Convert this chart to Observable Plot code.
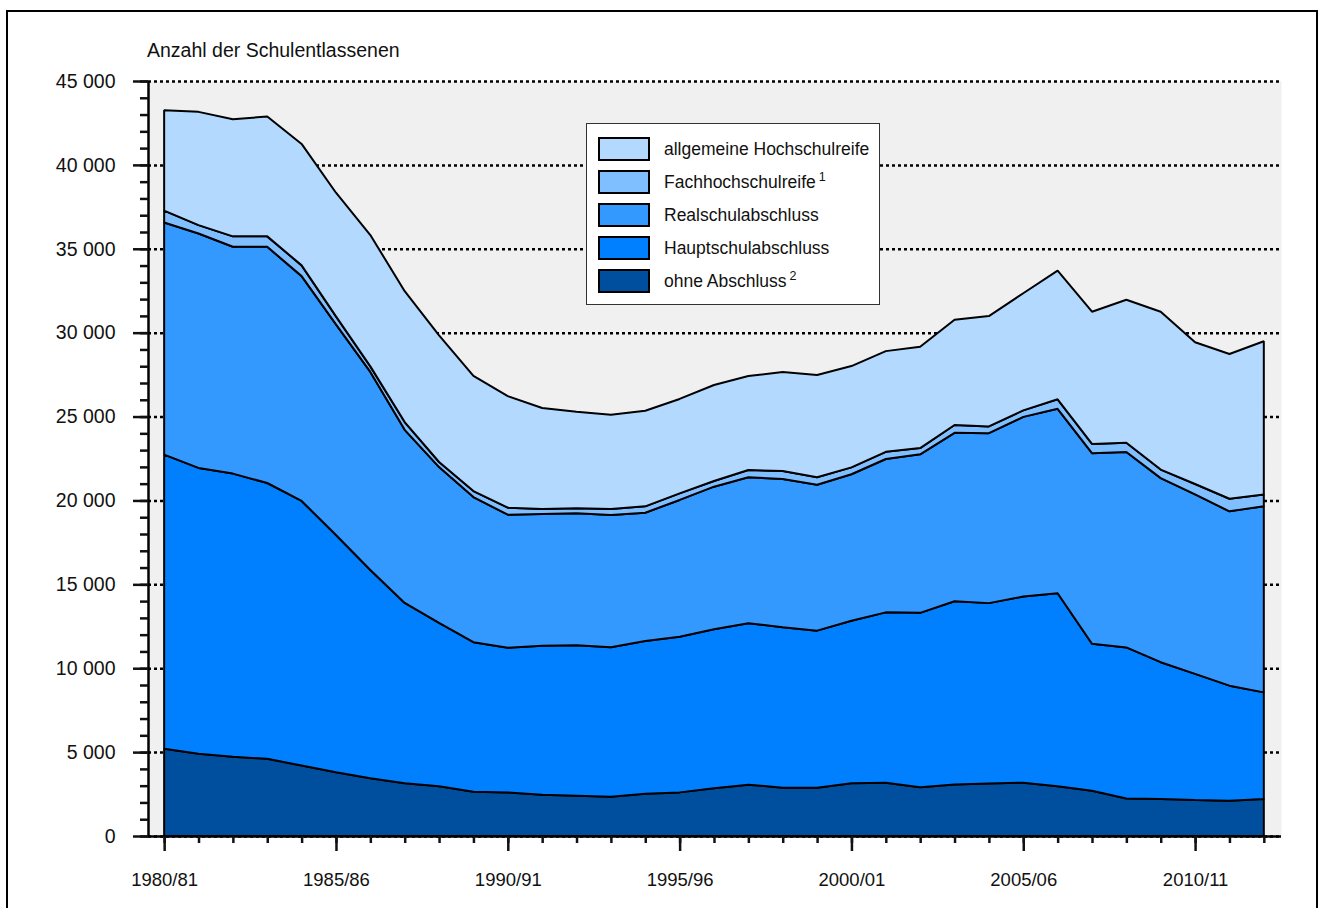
<!DOCTYPE html>
<html>
<head>
<meta charset="utf-8">
<script src="https://cdn.jsdelivr.net/npm/d3@7"></script>
<script src="https://cdn.jsdelivr.net/npm/@observablehq/plot@0.6"></script>
<style>
  html, body { margin: 0; padding: 0; background: #fff; overflow: hidden; }
  body { width: 1324px; height: 908px; position: relative; font-family: "Liberation Sans", Arial, sans-serif; color: #111; }
  #frame { position: absolute; left: 6px; top: 10px; width: 1312px; height: 960px; border: 2px solid #000; box-sizing: border-box; pointer-events: none; }
  #chart { position: absolute; left: 0; top: 0; }
  #title { position: absolute; left: 147px; top: 40px; font-size: 19.5px; line-height: 21px; white-space: nowrap; }
  #legend { position: absolute; left: 586px; top: 123px; width: 294px; height: 182px; background: #fff; border: 1px solid #333; box-sizing: border-box; }
  .row { position: absolute; left: 11px; height: 24px; display: flex; align-items: center; }
  .sw { width: 52px; height: 24px; border: 2px solid #000; box-sizing: border-box; margin-right: 14px; flex: none; }
  .lab { font-size: 17.5px; white-space: nowrap; }
  .lab sup { font-size: 12.5px; vertical-align: 0; position: relative; top: -7px; margin-left: 3px; }
</style>
</head>
<body>
<div id="chart"></div>
<div id="title"></div>
<div id="legend"></div>
<div id="frame"></div>
<script>
// ---- data ----
const schuljahre = ["1980/81","1981/82","1982/83","1983/84","1984/85","1985/86","1986/87","1987/88","1988/89","1989/90",
  "1990/91","1991/92","1992/93","1993/94","1994/95","1995/96","1996/97","1997/98","1998/99","1999/00",
  "2000/01","2001/02","2002/03","2003/04","2004/05","2005/06","2006/07","2007/08","2008/09","2009/10",
  "2010/11","2011/12","2012/13"];

const ohneAbschluss = [5200,4900,4720,4600,4200,3800,3440,3140,2960,2640,2600,2460,2400,2340,2520,2600,2840,3060,2880,2880,3140,3180,2900,3070,3130,3180,2960,2700,2240,2200,2140,2100,2210];
const hauptschulabschluss = [17530,17040,16880,16440,15770,14140,12410,10750,9740,8910,8620,8880,8970,8910,9100,9280,9480,9620,9560,9360,9690,10150,10400,10920,10750,11090,11510,8760,9000,8160,7520,6860,6350];
const realschulabschluss = [13840,13970,13520,14080,13400,12550,11810,10320,9290,8650,7930,7850,7860,7880,7650,8150,8500,8700,8840,8700,8730,9140,9450,10040,10130,10710,10990,11360,11650,10970,10700,10390,11100];
const fachhochschulreife = [700,500,620,620,640,480,330,460,300,360,420,300,300,360,380,390,340,430,470,440,410,430,370,465,400,390,570,550,550,510,620,750,700];
const allgHochschulreife = [5990,6750,6980,7140,7240,7370,7830,7800,7550,6860,6650,6020,5760,5620,5700,5630,5720,5610,5900,6100,6040,6000,6045,6275,6580,6980,7670,7880,8520,9410,8450,8630,9130];

// bottom to top
const serienNamen = ["ohne Abschluss","Hauptschulabschluss","Realschulabschluss","Fachhochschulreife","allgemeine Hochschulreife"];
const serienWerte = [ohneAbschluss, hauptschulabschluss, realschulabschluss, fachhochschulreife, allgHochschulreife];
const serienFarben = ["#004f9e","#0080ff","#3399ff","#80bfff","#b3d9ff"];
const fussnoten = ["2","","","1",""];

const yTicks = [0,5000,10000,15000,20000,25000,30000,35000,40000,45000];
const xTickIndex = [0,5,10,15,20,25,30];
const titel = "Anzahl der Schulentlassenen";

// ---- build table ----
const rows = [];
serienNamen.forEach((name, s) => {
  serienWerte[s].forEach((v, i) => rows.push({i, jahr: schuljahre[i], serie: name, value: v}));
});

const yFmt = d => d3.format(",")(d).replace(/,/g, " ");

const chart = Plot.plot({
  width: 1324,
  height: 908,
  marginLeft: 148,
  marginRight: 43,
  marginTop: 81,
  marginBottom: 72,
  style: {fontFamily: "Liberation Sans, Arial, sans-serif", fontSize: "18.5px", color: "#111", background: "transparent"},
  x: {domain: [-0.47, 32.5]},
  y: {domain: [0, 45000]},
  color: {domain: serienNamen, range: serienFarben},
  marks: [
    Plot.frame({fill: "#f0f0f0", stroke: "none"}),
    Plot.ruleY(yTicks, {stroke: "#000", strokeWidth: 2.5, strokeDasharray: "3,3"}),
    Plot.areaY(rows, {x: "i", y: "value", z: "serie", fill: "serie", order: serienNamen, stroke: "#000", strokeWidth: 2, strokeLinejoin: "miter"}),
    Plot.ruleX([-0.47], {stroke: "#000", strokeWidth: 2.5}),
    Plot.ruleY([0], {stroke: "#000", strokeWidth: 2.5}),
    Plot.axisY({ticks: d3.range(0, 45001, 1000), tickSize: 8, tickFormat: () => "", strokeWidth: 2.5, label: null}),
    Plot.axisY({ticks: yTicks, tickSize: 15, tickPadding: 18, tickFormat: yFmt, strokeWidth: 2.5, fontSize: 19.5, label: null}),
    Plot.axisX({ticks: d3.range(0, schuljahre.length), tickSize: 7, tickFormat: () => "", strokeWidth: 2.5, label: null}),
    Plot.axisX({ticks: xTickIndex, tickSize: 15, tickPadding: 21, tickFormat: i => schuljahre[i], strokeWidth: 2.5, fontSize: 18.5, label: null})
  ]
});
document.getElementById("chart").appendChild(chart);
document.getElementById("title").textContent = titel;

// legend (top entry first)
const legend = document.getElementById("legend");
const legendOrder = [4, 3, 2, 1, 0];
legendOrder.forEach((s, k) => {
  const row = document.createElement("div");
  row.className = "row";
  row.style.top = (13 + k * 33) + "px";
  const sw = document.createElement("div");
  sw.className = "sw";
  sw.style.background = serienFarben[s];
  const lab = document.createElement("span");
  lab.className = "lab";
  lab.textContent = serienNamen[s];
  if (fussnoten[s]) {
    const sup = document.createElement("sup");
    sup.textContent = fussnoten[s];
    lab.appendChild(sup);
  }
  row.appendChild(sw);
  row.appendChild(lab);
  legend.appendChild(row);
});
</script>
</body>
</html>
